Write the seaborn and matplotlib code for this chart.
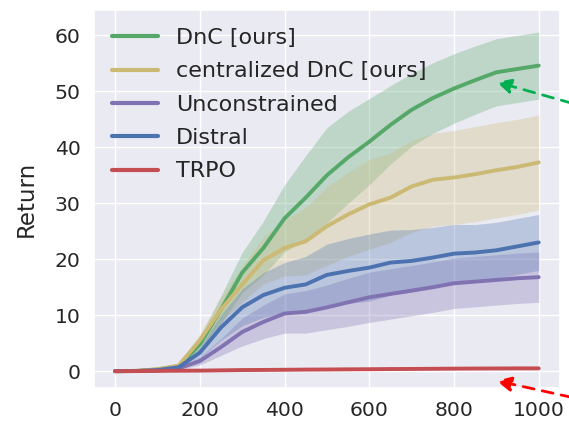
import numpy as np
import pandas as pd
import matplotlib
matplotlib.use("Agg")
import matplotlib.pyplot as plt
import seaborn as sns

steps = [0, 50, 100, 150, 200, 250, 300, 350, 400, 450, 500,
         550, 600, 650, 700, 750, 800, 850, 900, 950, 1000]

methods = ["DnC [ours]", "centralized DnC [ours]", "Unconstrained", "Distral", "TRPO"]

dnc_mean = [0, 0.05, 0.3, 0.9, 4.8, 11.0, 17.6, 22.0, 27.3, 31.0, 35.0,
            38.2, 41.0, 44.0, 46.7, 48.8, 50.5, 52.0, 53.4, 54.0, 54.6]
dnc_half = [0, 0.02, 0.1, 0.4, 1.2, 2.5, 3.6, 4.8, 6.0, 7.5, 8.5,
            8.2, 7.7, 7.0, 6.5, 6.3, 6.2, 6.1, 6.0, 6.0, 6.0]

cen_mean = [0, 0.05, 0.35, 1.0, 5.5, 11.0, 15.5, 19.8, 22.0, 23.2, 25.9,
            28.0, 29.8, 31.0, 33.0, 34.2, 34.6, 35.2, 35.9, 36.5, 37.3]
cen_half = [0, 0.02, 0.1, 0.4, 1.2, 2.2, 3.2, 4.2, 5.0, 6.0, 7.0,
            7.5, 8.0, 8.0, 8.2, 8.3, 8.4, 8.5, 8.5, 8.5, 8.5]

unc_mean = [0, 0.02, 0.1, 0.5, 1.8, 4.3, 7.0, 8.8, 10.3, 10.6, 11.4,
            12.3, 13.2, 13.8, 14.4, 15.0, 15.7, 16.0, 16.3, 16.6, 16.8]
unc_half = [0, 0.01, 0.05, 0.2, 0.7, 1.5, 2.5, 3.0, 3.5, 3.8, 4.0,
            4.3, 4.5, 4.5, 4.5, 4.5, 4.5, 4.5, 4.5, 4.5, 4.5]

dis_mean = [0, 0.03, 0.2, 0.7, 3.3, 7.8, 11.4, 13.6, 14.9, 15.5, 17.2,
            17.9, 18.5, 19.4, 19.7, 20.3, 21.0, 21.2, 21.6, 22.3, 23.0]
dis_half = [0, 0.01, 0.05, 0.25, 1.0, 2.3, 3.3, 4.0, 4.5, 5.0, 5.5,
            5.8, 6.0, 5.8, 5.6, 5.4, 5.2, 5.0, 5.0, 5.0, 5.0]

trpo_mean = [0, 0.02, 0.05, 0.08, 0.1, 0.15, 0.2, 0.22, 0.25, 0.28, 0.3,
             0.33, 0.35, 0.38, 0.4, 0.42, 0.45, 0.47, 0.48, 0.5, 0.5]
trpo_half = [0, 0.02, 0.03, 0.05, 0.05, 0.08, 0.1, 0.1, 0.1, 0.12, 0.12,
             0.12, 0.12, 0.12, 0.12, 0.12, 0.12, 0.12, 0.12, 0.12, 0.12]

means = [dnc_mean, cen_mean, unc_mean, dis_mean, trpo_mean]
halves = [dnc_half, cen_half, unc_half, dis_half, trpo_half]
colors = ["#55A868", "#CCB974", "#8172B2", "#4C72B0", "#C44E52"]

sns.set_theme(style="darkgrid")
plt.rcParams["font.family"] = ["DejaVu Sans"]

fig = plt.figure(figsize=(5.69, 4.24), dpi=100)
ax = fig.add_axes([0.165, 0.085, 0.819, 0.891])

rows = []
for m, mean in zip(methods, means):
    for s, v in zip(steps, mean):
        rows.append({"step": s, "Return": v, "method": m})
df = pd.DataFrame(rows)

x = np.array(steps, dtype=float)
for i in range(len(methods)):
    mu = np.array(means[i]); h = np.array(halves[i])
    ax.fill_between(x, mu - h, mu + h, color=colors[i], alpha=0.3, lw=0)

sns.lineplot(data=df, x="step", y="Return", hue="method", hue_order=methods,
             palette=dict(zip(methods, colors)), lw=2.8, errorbar=None, ax=ax)

ax.set_xlim(-50, 1050)
ax.set_ylim(-3, 64.5)
ax.set_xticks([0, 200, 400, 600, 800, 1000])
ax.set_yticks([0, 10, 20, 30, 40, 50, 60])
ax.set_xlabel("")
ax.set_ylabel("Return", fontsize=16.5, labelpad=12)
ax.tick_params(axis="both", labelsize=14.7)

leg = ax.legend(loc="upper left", fontsize=16, frameon=False, labelspacing=0.6,
                handlelength=2.1, handletextpad=0.8, borderaxespad=0.4)
for line in leg.get_lines():
    line.set_linewidth(3)

ax.annotate("", xy=(894, 51.8), xycoords="data", xytext=(1.01, 1 - 104 / 424),
            textcoords="figure fraction", annotation_clip=False,
            arrowprops=dict(arrowstyle="-|>", linestyle=(0, (4, 3)), lw=2,
                            color="#00B050", mutation_scale=22))
ax.annotate("", xy=(894, -1.6), xycoords="data", xytext=(1.01, 1 - 398 / 424),
            textcoords="figure fraction", annotation_clip=False,
            arrowprops=dict(arrowstyle="-|>", linestyle=(0, (4, 3)), lw=2,
                            color="#FF0000", mutation_scale=22))

fig.savefig("out.png", dpi=100, facecolor="white")
